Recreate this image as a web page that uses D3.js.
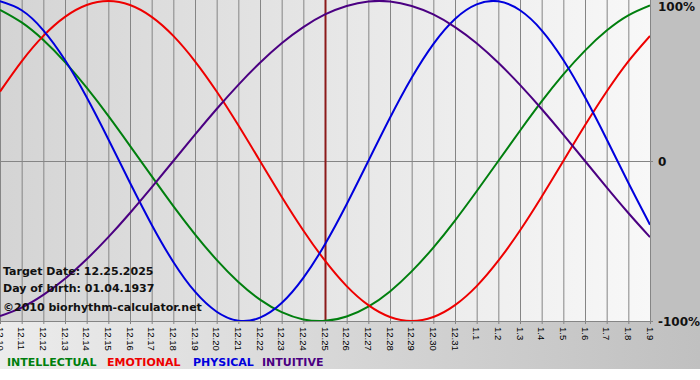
<!DOCTYPE html>
<html>
<head>
<meta charset="utf-8">
<script src="https://cdn.jsdelivr.net/npm/d3@7"></script>
<style>
  body { margin: 0; background: #ffffff; }
  svg { display: block; }
</style>
</head>
<body>
<svg id="chart"></svg>
<script>
// day labels, 12.10.2025 .. 01.09.2026
const days = ["12.10","12.11","12.12","12.13","12.14","12.15","12.16","12.17","12.18","12.19",
  "12.20","12.21","12.22","12.23","12.24","12.25","12.26","12.27","12.28","12.29",
  "12.30","12.31","1.1","1.2","1.3","1.4","1.5","1.6","1.7","1.8","1.9"];

// values in percent, one per day
const physical = [99.8, 94.2, 81.7, 63.1, 39.8, 13.6, -13.6, -39.8, -63.1, -81.7,
  -94.2, -99.8, -97.9, -88.8, -73.1, -52.0, -27.0, 0, 27.0, 52.0,
  73.1, 88.8, 97.9, 99.8, 94.2, 81.7, 63.1, 39.8, 13.6, -13.6, -39.8];
const emotional = [43.4, 62.3, 78.2, 90.1, 97.5, 100, 97.5, 90.1, 78.2, 62.3,
  43.4, 22.3, 0, -22.3, -43.4, -62.3, -78.2, -90.1, -97.5, -100,
  -97.5, -90.1, -78.2, -62.3, -43.4, -22.3, 0, 22.3, 43.4, 62.3, 78.2];
const intellectual = [94.5, 86.6, 75.6, 61.8, 45.8, 28.2, 9.5, -9.5, -28.2, -45.8,
  -61.8, -75.6, -86.6, -94.5, -99.0, -99.9, -97.2, -91.0, -81.5, -69.0,
  -54.1, -37.2, -18.9, 0, 18.9, 37.2, 54.1, 69.0, 81.5, 91.0, 97.2];
const intuitive = [-96.9, -91.6, -83.7, -73.6, -61.4, -47.6, -32.5, -16.5, 0, 16.5,
  32.5, 47.6, 61.4, 73.6, 83.7, 91.6, 96.9, 99.7, 99.7, 96.9,
  91.6, 83.7, 73.6, 61.4, 47.6, 32.5, 16.5, 0, -16.5, -32.5, -47.6];

const targetDay = "12.25";
const yTicks = [100, 0, -100];
const yTickLabels = ["100%", "0", "-100%"];

const series = [
  {name: "INTELLECTUAL", values: intellectual, color: "#007f0e"},
  {name: "EMOTIONAL", values: emotional, color: "#ee0000"},
  {name: "PHYSICAL", values: physical, color: "#0000dd"},
  {name: "INTUITIVE", values: intuitive, color: "#4b0082"}
];

const width = 700, height = 380;
const plotW = 650, plotTop = 1, plotBottom = 321, stripBottom = 369;

const svg = d3.select("#chart")
  .attr("width", width)
  .attr("height", height)
  .style("font-family", "'DejaVu Sans', Verdana, sans-serif");

const x = d3.scalePoint().domain(days).range([0, plotW]);
const y = d3.scaleLinear().domain([-100, 100]).range([plotBottom, plotTop]);

// gradients
const defs = svg.append("defs");
const gPlot = defs.append("linearGradient").attr("id", "plotbg");
gPlot.append("stop").attr("offset", "0%").attr("stop-color", "#d4d4d4");
gPlot.append("stop").attr("offset", "100%").attr("stop-color", "#f8f8f8");
const gBottom = defs.append("linearGradient").attr("id", "botbg");
gBottom.append("stop").attr("offset", "0%").attr("stop-color", "#ececec");
gBottom.append("stop").attr("offset", "100%").attr("stop-color", "#c0c0c0");
defs.append("clipPath").attr("id", "plotclip")
  .append("rect").attr("x", 0).attr("y", 0).attr("width", plotW).attr("height", plotBottom);

// backgrounds
svg.append("rect").attr("x", 0).attr("y", plotBottom).attr("width", width)
  .attr("height", stripBottom - plotBottom).attr("fill", "url(#botbg)");
svg.append("rect").attr("x", plotW).attr("y", 0).attr("width", width - plotW)
  .attr("height", plotBottom).attr("fill", "#c0c0c0");
svg.append("rect").attr("x", 0).attr("y", 0).attr("width", plotW)
  .attr("height", plotBottom).attr("fill", "url(#plotbg)");

// vertical grid
svg.append("g")
  .selectAll("line")
  .data(days)
  .join("line")
  .attr("x1", d => x(d) + 0.5).attr("x2", d => x(d) + 0.5)
  .attr("y1", 0).attr("y2", plotBottom + 3)
  .attr("stroke", "#858585")
  .attr("stroke-width", 1);

// zero line and bottom axis line
svg.append("line")
  .attr("x1", 0).attr("x2", plotW + 3)
  .attr("y1", Math.round(y(0)) + 0.5).attr("y2", Math.round(y(0)) + 0.5)
  .attr("stroke", "#858585");
svg.append("line")
  .attr("x1", 0).attr("x2", plotW + 3)
  .attr("y1", plotBottom + 0.5).attr("y2", plotBottom + 0.5)
  .attr("stroke", "#858585");

// target day marker
svg.append("line")
  .attr("x1", x(targetDay) + 0.5).attr("x2", x(targetDay) + 0.5)
  .attr("y1", 0).attr("y2", plotBottom)
  .attr("stroke", "#8b1a1a")
  .attr("stroke-width", 2);

// curves
const line = d3.line()
  .x((d, i) => x(days[i]))
  .y(d => y(d))
  .curve(d3.curveNatural);

svg.append("g")
  .attr("clip-path", "url(#plotclip)")
  .selectAll("path")
  .data(series)
  .join("path")
  .attr("fill", "none")
  .attr("stroke", d => d.color)
  .attr("stroke-width", 2)
  .attr("d", d => line(d.values));

// day labels, rotated
svg.append("g")
  .selectAll("text")
  .data(days)
  .join("text")
  .attr("transform", d => `translate(${x(d)},${plotBottom + 6}) rotate(90)`)
  .attr("dy", "0.35em")
  .attr("text-anchor", "start")
  .style("font-family", "'Liberation Sans', Arial, sans-serif")
  .style("font-size", "9.5px")
  .attr("fill", "#000")
  .text(d => d);

// percent labels
svg.append("g")
  .selectAll("text")
  .data(yTicks)
  .join("text")
  .attr("x", plotW + 8)
  .attr("y", d => Math.max(y(d), 6) + 1)
  .attr("dy", "0.35em")
  .style("font-size", "12px")
  .style("font-weight", "bold")
  .attr("fill", "#111")
  .text((d, i) => yTickLabels[i]);

// info text
const info = ["Target Date: 12.25.2025", "Day of birth: 01.04.1937", "\u00a92010 biorhythm-calculator.net"];
const infoY = [271, 288, 307];
svg.append("g")
  .selectAll("text")
  .data(info)
  .join("text")
  .attr("x", 3)
  .attr("y", (d, i) => infoY[i])
  .attr("dy", "0.35em")
  .style("font-size", "11px")
  .style("font-weight", "bold")
  .attr("fill", "#111")
  .text(d => d);

// legend
const legendX = [7, 107, 193, 262];
svg.append("g")
  .selectAll("text")
  .data(series)
  .join("text")
  .attr("x", (d, i) => legendX[i])
  .attr("y", 362)
  .attr("dy", "0.35em")
  .style("font-size", "11px")
  .style("font-weight", "bold")
  .attr("fill", d => d.color)
  .text(d => d.name);
</script>
</body>
</html>
